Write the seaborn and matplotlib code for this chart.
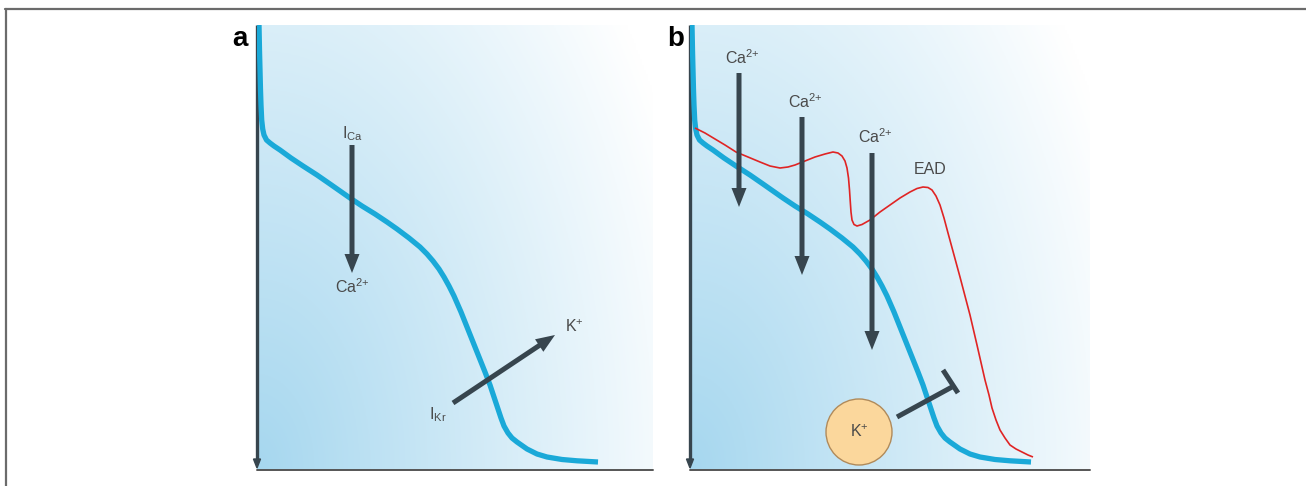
import numpy as np
import matplotlib
matplotlib.use("Agg")
import matplotlib.pyplot as plt
from matplotlib.lines import Line2D
from matplotlib.patches import Circle
import seaborn as sns

# ---------------- data (panel-local pixel-like units, y up) ----------------
# normal action potential (blue), same shape in both panels
ap_x = [2, 2.5, 3, 3.5, 4, 4.7, 5.7, 7, 9.5, 13, 17, 23, 34, 46, 60, 73, 83, 93,
        105, 118, 130, 140, 152, 163, 170, 176, 182, 187, 192, 197, 204, 210, 216,
        222, 228, 233, 237, 241, 244, 247, 251, 255, 260, 270, 280, 290, 305, 320, 341]
ap_y = [445, 420, 400, 380, 365, 350, 341, 335, 330, 327, 324, 320, 312, 304, 295,
        286, 279, 272, 264, 256, 248, 241, 232, 223, 216, 209, 201, 193, 184, 174,
        158, 143, 128, 113, 98, 85, 73, 61, 52, 44, 37, 32, 28, 21, 16, 13, 10.5,
        9.2, 8]

# prolonged action potential with EAD (red), panel b
ead_x = [5, 15, 25, 35, 46, 58, 70, 80, 90, 98, 105, 115, 125, 135, 143, 148, 152,
         155, 157, 158.5, 159.5, 160.3, 161, 162, 164, 167, 172, 180, 190, 200, 210,
         220, 227, 233, 238, 242, 246, 250, 254, 258, 264, 270, 275, 280, 287, 295,
         299, 302, 306, 310, 315, 320, 326, 332, 338, 343]
ead_y = [342, 337, 331, 325, 318, 313, 308, 304, 302, 303, 305, 309, 313, 316, 318,
         317, 314, 309, 302, 292, 280, 268, 258, 250, 245.5, 244, 245.5, 250, 258,
         265, 272, 278, 281.5, 283, 282.5, 280, 274, 265, 252, 237, 215, 193, 174,
         155, 125, 90, 75, 62, 50, 40, 32, 25, 21, 18, 15, 13]

# panel a arrows: (x0, y0, x1, y1)
a_arrows = [(95, 325, 95, 197), (196, 67, 298, 135)]
a_labels = [(95, 336, r"I$_{\mathregular{Ca}}$"), (95, 183, r"Ca$^{\mathregular{2{+}}}$"),
            (181, 55, r"I$_{\mathregular{Kr}}$"), (317, 143, r"K$^{\mathregular{+}}$")]

# panel b arrows
b_arrows = [(49, 397, 49, 263), (112, 353, 112, 195), (182, 317, 182, 120)]
b_labels = [(52, 412, r"Ca$^{\mathregular{2{+}}}$"), (115, 368, r"Ca$^{\mathregular{2{+}}}$"),
            (185, 333, r"Ca$^{\mathregular{2{+}}}$"), (240, 300, "EAD")]
k_circle = (169, 38, 33)
block_line = (207, 53, 262, 83)
block_bar = (253, 100, 268, 77)

panel_letters = ["a", "b"]

# ---------------- style ----------------
sns.set_style("white")
plt.rcParams["font.family"] = ["Liberation Sans", "DejaVu Sans"]
plt.rcParams["mathtext.fontset"] = "custom"
plt.rcParams["mathtext.rm"] = "Liberation Sans"
plt.rcParams["mathtext.it"] = "Liberation Sans"

W_px, H_px = 1306, 486
fig = plt.figure(figsize=(W_px / 100, H_px / 100), dpi=100)

BLUE = "#1aa9d8"
RED = "#e02424"
DARK = "#37454e"
TXT = "#4a4a4a"

panels = [(257, 396), (690, 400)]
top_px, bot_px = 25, 470
H = bot_px - top_px


def gradient(ax, w, h):
    xs = np.linspace(0, 1, 200)
    ys = np.linspace(0, 1, 200)
    X, Y = np.meshgrid(xs, ys)
    r = np.sqrt(X ** 2 + 0.45 * Y ** 2) / 1.15
    t = np.clip(r, 0, 1)
    c0 = np.array([0xa6, 0xd7, 0xef]) / 255.0
    c1 = np.array([1.0, 1.0, 1.0])
    img = c0[None, None, :] * (1 - t[..., None]) + c1[None, None, :] * t[..., None]
    ax.imshow(img, extent=(0, w, 0, h), origin="lower", aspect="auto", zorder=0)


axes = []
for (left, w) in panels:
    ax = fig.add_axes([left / W_px, (H_px - bot_px) / H_px, w / W_px, H / H_px])
    ax.set_xlim(0, w)
    ax.set_ylim(0, H)
    ax.axis("off")
    gradient(ax, w, H)
    # bottom axis
    ax.plot([0, w], [0, 0], color="#555555", lw=1.4, clip_on=False, zorder=2)
    # left axis with downward arrow
    ax.plot([0, 0], [H, 8], color=DARK, lw=2.4, clip_on=False, zorder=2,
            solid_capstyle="butt")
    ax.arrow(0, 10, 0, -8, width=0.5, head_width=7, head_length=9,
             length_includes_head=True, color=DARK, clip_on=False, zorder=2)
    axes.append(ax)

ax_a, ax_b = axes


def draw_arrow(ax, x0, y0, x1, y1):
    ax.arrow(x0, y0, x1 - x0, y1 - y0, width=5, head_width=15, head_length=19,
             length_includes_head=True, color=DARK, lw=0, zorder=5)


line_kw = dict(sort=False, estimator=None, solid_joinstyle="round",
               solid_capstyle="butt")

# panel a
sns.lineplot(x=ap_x, y=ap_y, ax=ax_a, color=BLUE, lw=3.8, zorder=3, **line_kw)
for arr in a_arrows:
    draw_arrow(ax_a, *arr)
for (x, y, s) in a_labels:
    ax_a.text(x, y, s, ha="center", va="center", fontsize=11.5, color=TXT, zorder=6)

# panel b
sns.lineplot(x=ap_x, y=ap_y, ax=ax_b, color=BLUE, lw=3.8, zorder=3, **line_kw)
sns.lineplot(x=ead_x, y=ead_y, ax=ax_b, color=RED, lw=1.2, zorder=4, **line_kw)
for arr in b_arrows:
    draw_arrow(ax_b, *arr)
for (x, y, s) in b_labels:
    ax_b.text(x, y, s, ha="center", va="center", fontsize=11.5, color=TXT, zorder=6)

cx, cy, cr = k_circle
ax_b.add_patch(Circle((cx, cy), cr, facecolor="#fbd79c", edgecolor="#b08a5a",
                      lw=1.0, zorder=6))
ax_b.text(cx, cy, r"K$^{\mathregular{+}}$", ha="center", va="center", fontsize=11.5,
          color=TXT, zorder=7)
ax_b.plot([block_line[0], block_line[2]], [block_line[1], block_line[3]],
          color=DARK, lw=3.6, solid_capstyle="butt", zorder=5)
ax_b.plot([block_bar[0], block_bar[2]], [block_bar[1], block_bar[3]],
          color=DARK, lw=3.6, solid_capstyle="butt", zorder=5)

for ax in axes:
    if ax.get_legend() is not None:
        ax.get_legend().remove()

# panel letters
fig.text(240 / W_px, 1 - 39 / H_px, panel_letters[0], ha="center", va="center",
         fontsize=20, fontweight="bold", color="black")
fig.text(676 / W_px, 1 - 39 / H_px, panel_letters[1], ha="center", va="center",
         fontsize=20, fontweight="bold", color="black")

# frame lines
fig.add_artist(Line2D([5 / W_px, 1.0], [1 - 9.5 / H_px, 1 - 9.5 / H_px],
                      color="#6b6b6b", lw=1.6))
fig.add_artist(Line2D([5.5 / W_px, 5.5 / W_px], [0, 1 - 9.5 / H_px],
                      color="#6b6b6b", lw=1.6))

fig.savefig("out.png", dpi=100)
